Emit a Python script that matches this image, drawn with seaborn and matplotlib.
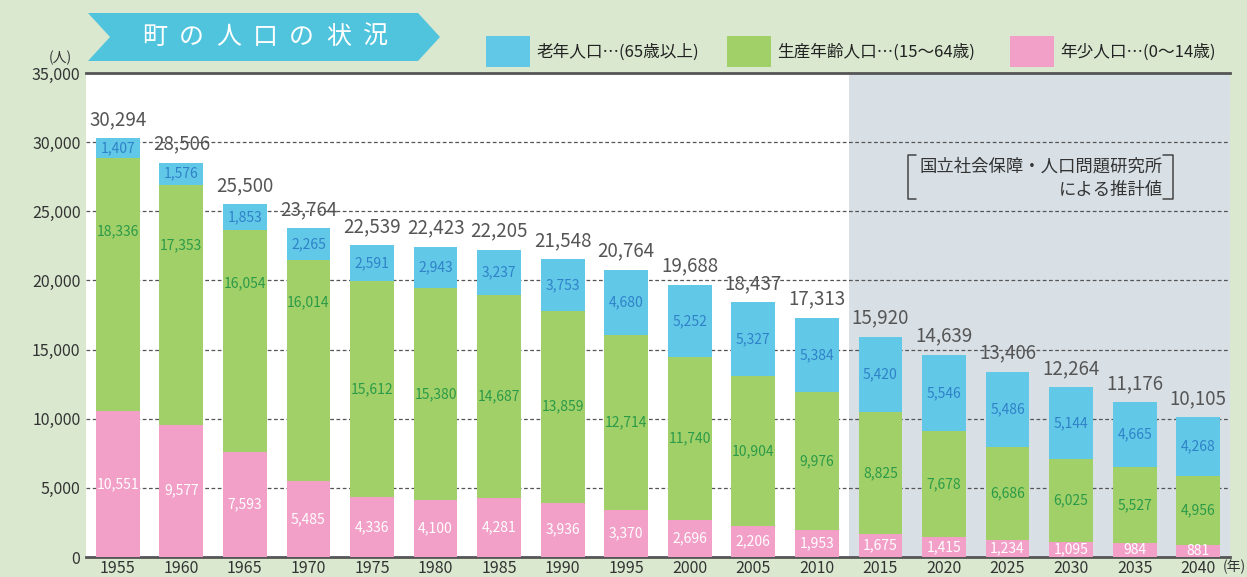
import pandas as pd
import matplotlib
matplotlib.use("Agg")
import matplotlib.pyplot as plt
import seaborn as sns
from matplotlib.patches import Polygon, Rectangle
from matplotlib.lines import Line2D

# --- DATA ---
years = [1955, 1960, 1965, 1970, 1975, 1980, 1985, 1990, 1995,
         2000, 2005, 2010, 2015, 2020, 2025, 2030, 2035, 2040]
elderly = [1407, 1576, 1853, 2265, 2591, 2943, 3237, 3753, 4680,
           5252, 5327, 5384, 5420, 5546, 5486, 5144, 4665, 4268]
working = [18336, 17353, 16054, 16014, 15612, 15380, 14687, 13859, 12714,
           11740, 10904, 9976, 8825, 7678, 6686, 6025, 5527, 4956]
young = [10551, 9577, 7593, 5485, 4336, 4100, 4281, 3936, 3370,
         2696, 2206, 1953, 1675, 1415, 1234, 1095, 984, 881]
totals = [30294, 28506, 25500, 23764, 22539, 22423, 22205, 21548, 20764,
          19688, 18437, 17313, 15920, 14639, 13406, 12264, 11176, 10105]
y_ticks = [0, 5000, 10000, 15000, 20000, 25000, 30000, 35000]

title = "町の人口の状況"
legend_labels = ["老年人口…(65歳以上)", "生産年齢人口…(15〜64歳)", "年少人口…(0〜14歳)"]
note_lines = ["国立社会保障・人口問題研究所", "による推計値"]

# --- STYLE ---
W, H = 1247, 577
BG = "#d9e8cf"
BLUE, GREEN, PINK = "#62c8e8", "#a2d068", "#f2a0c8"
BLUE_TXT, GREEN_TXT = "#2f82c8", "#2a9a48"
GREY_TXT = "#555555"
# the early working-age labels sit higher than the segment middle
green_label_shift = {0: 3800, 1: 4300, 2: 4200, 3: 4900}

sns.set_style("white")
plt.rcParams["font.family"] = ["Noto Sans CJK JP", "DejaVu Sans"]

df = pd.DataFrame({"year": [str(y) for y in years],
                   "elderly": elderly, "working": working, "young": young})
df["work_top"] = df["young"] + df["working"]
df["total"] = df["work_top"] + df["elderly"]


def fx(x):
    return x / W


def fy(y):
    return 1 - y / H


fig = plt.figure(figsize=(W / 100, H / 100), dpi=100, facecolor=BG)
ax = fig.add_axes([fx(86), fy(557), (1230 - 86) / W, (557 - 73) / H])
ax.set_facecolor("white")

# stacked bars: draw cumulative heights on top of each other
bw = 0.69
for col, c, z in [("total", BLUE, 2), ("work_top", GREEN, 3), ("young", PINK, 4)]:
    sns.barplot(data=df, x="year", y=col, color=c, width=bw, saturation=1,
                linewidth=0, edgecolor="none", ax=ax, zorder=z)

# projection shading
ax.axvspan(11.5, 17.5, color="#d8e0e6", zorder=0, lw=0)
for yv in y_ticks[1:-1]:
    ax.axhline(yv, color="#555555", lw=0.9, ls=(0, (3, 2)), zorder=1)

ax.set_xlim(-0.5, 17.5)
ax.set_ylim(0, 35000)
ax.set_yticks(y_ticks)
ax.set_yticklabels([f"{v:,}" for v in y_ticks], fontsize=11.5, color="#333333")
ax.tick_params(axis="both", length=0, pad=4)
ax.tick_params(axis="x", labelsize=11.5, labelcolor="#333333", pad=2)
ax.set_xlabel("")
ax.set_ylabel("")
for side in ["left", "right"]:
    ax.spines[side].set_visible(False)
for side in ["top", "bottom"]:
    ax.spines[side].set_color("#555555")
    ax.spines[side].set_linewidth(2)

# value labels
for i in range(len(years)):
    y0 = young[i]
    w0 = working[i]
    e0 = elderly[i]
    ax.text(i, y0 / 2, f"{y0:,}", ha="center", va="center", color="white",
            fontsize=10, zorder=6)
    ax.text(i, y0 + w0 / 2 + green_label_shift.get(i, 0), f"{w0:,}",
            ha="center", va="center", color=GREEN_TXT, fontsize=10, zorder=6)
    ax.text(i, y0 + w0 + e0 / 2, f"{e0:,}", ha="center", va="center",
            color=BLUE_TXT, fontsize=10, zorder=6)
    ax.text(i, totals[i] + 1350, f"{totals[i]:,}", ha="center", va="center",
            color=GREY_TXT, fontsize=13.5, zorder=6)

# unit labels
fig.text(fx(60), fy(58), "(人)", ha="center", va="center", fontsize=10, color="#333333")
fig.text(fx(1234), fy(567), "(年)", ha="center", va="center", fontsize=10, color="#333333")

# title banner
pts = [(88, 13), (418, 13), (440, 37), (418, 61), (88, 61), (110, 37)]
fig.add_artist(Polygon([(fx(a), fy(b)) for a, b in pts], closed=True,
                       facecolor="#50c4dc", edgecolor="none"))
for k, ch in enumerate(title):
    fig.text(fx(155 + k * 36.7), fy(37), ch, ha="center", va="center",
             color="white", fontsize=18)

# legend
leg_x = [486, 727, 1010]
for xs, col, lab in zip(leg_x, [BLUE, GREEN, PINK], legend_labels):
    fig.add_artist(Rectangle((fx(xs), fy(67)), 44 / W, 31 / H,
                             facecolor=col, edgecolor="none"))
    fig.text(fx(xs + 50), fy(52), lab, ha="left", va="center",
             fontsize=12, color="#222222")

# source note with brackets
fig.text(fx(1163), fy(167), note_lines[0], ha="right", va="center",
         fontsize=12.5, color="#333333")
fig.text(fx(1163), fy(190), note_lines[1], ha="right", va="center",
         fontsize=12.5, color="#333333")
for xs in [(916, 908, 908, 916), (1163, 1173, 1173, 1163)]:
    fig.add_artist(Line2D([fx(v) for v in xs], [fy(155), fy(155), fy(199), fy(199)],
                          color="#444444", lw=1.1))

fig.savefig("out.png", dpi=100, facecolor=BG)
